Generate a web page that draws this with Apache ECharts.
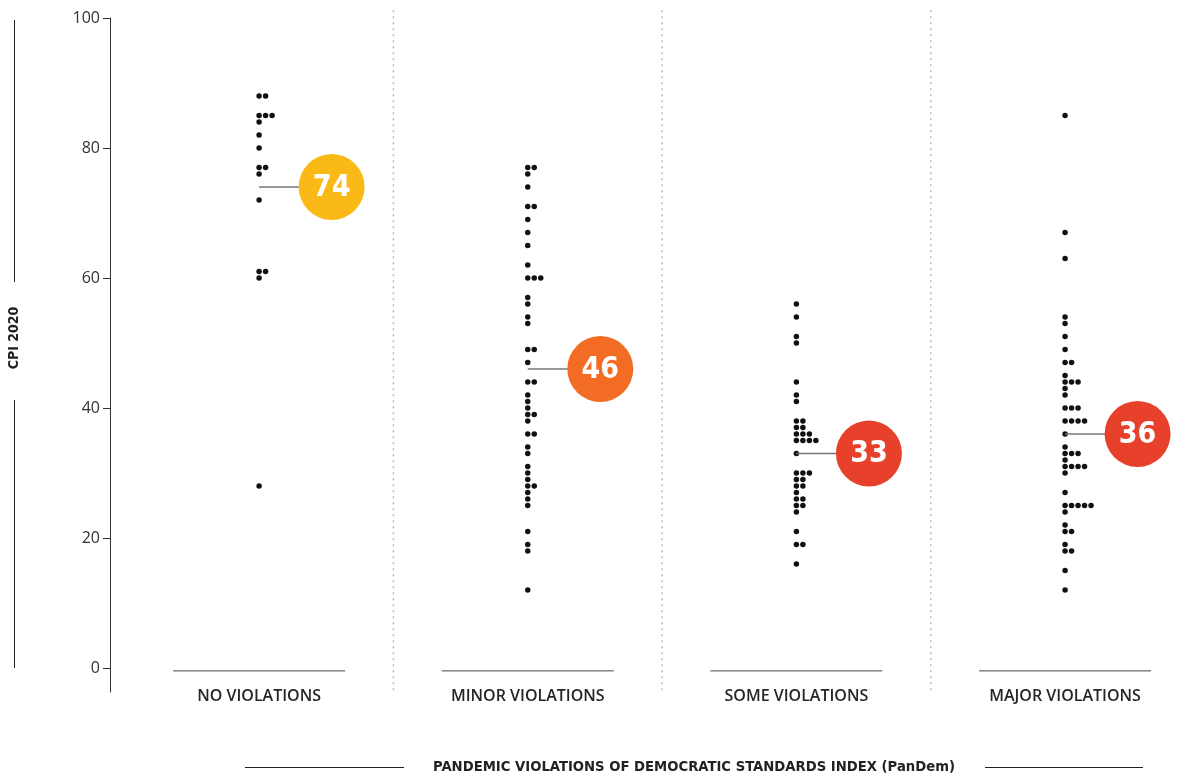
<!DOCTYPE html>
<html>
<head>
<meta charset="utf-8">
<script src="https://cdn.jsdelivr.net/npm/echarts@6/dist/echarts.min.js"></script>
<style>
html,body{margin:0;padding:0;background:#fff;}
#chart{width:1197px;height:775px;}
</style>
</head>
<body>
<div id="chart"></div>
<script>
// ---- data ----
const categories = ['NO VIOLATIONS', 'MINOR VIOLATIONS', 'SOME VIOLATIONS', 'MAJOR VIOLATIONS'];
const noViolations = [88, 88, 85, 85, 85, 84, 82, 80, 77, 77, 76, 72, 61, 61, 60, 28];
const minorViolations = [77, 77, 76, 74, 71, 71, 69, 67, 65, 62, 60, 60, 60, 57, 56, 54, 53, 49, 49, 47, 44, 44, 42, 41, 40, 39, 39, 38, 36, 36, 34, 33, 31, 30, 29, 28, 28, 27, 26, 25, 21, 19, 18, 12];
const someViolations = [56, 54, 51, 50, 44, 42, 41, 38, 38, 37, 37, 36, 36, 36, 35, 35, 35, 35, 33, 30, 30, 30, 29, 29, 28, 28, 27, 26, 26, 25, 25, 24, 21, 19, 19, 16];
const majorViolations = [85, 67, 63, 54, 53, 51, 49, 47, 47, 45, 44, 44, 44, 43, 42, 40, 40, 40, 38, 38, 38, 38, 36, 34, 33, 33, 33, 32, 31, 31, 31, 31, 30, 27, 25, 25, 25, 25, 25, 24, 22, 21, 21, 19, 18, 18, 15, 12];
const groupMeans = [74, 46, 33, 36];
const yTicks = [0, 20, 40, 60, 80, 100];
const yAxisTitle = 'CPI 2020';
const xAxisTitle = 'PANDEMIC VIOLATIONS OF DEMOCRATIC STANDARDS INDEX (PanDem)';

// ---- styles ----
const bubbleColors = ['#FBB918', '#F26C23', '#E8412B', '#E8412B'];
const condFont = '"DejaVu Sans Condensed", "Liberation Sans Narrow", "DejaVu Sans", sans-serif';
const DOT_STEP = 6.5;

const groups = [noViolations, minorViolations, someViolations, majorViolations];

// dot-stack: each repeated value is shifted one step to the right
const dotData = [];
groups.forEach((vals, g) => {
  const seen = {};
  vals.forEach(v => {
    const k = seen[v] || 0;
    seen[v] = k + 1;
    dotData.push({ value: [g, v], symbolOffset: [k * DOT_STEP, 0] });
  });
});

const catData = categories.map((c, g) => [g]);
const meanData = groupMeans.map((m, g) => [g, m]);

const chart = echarts.init(document.getElementById('chart'), null, { renderer: 'canvas' });

chart.setOption({
  animation: false,
  backgroundColor: '#fff',
  grid: { left: 110, right: 3, top: 18, bottom: 83 },
  xAxis: {
    type: 'value', min: -0.555, max: 3.48,
    show: false
  },
  yAxis: {
    type: 'value', min: -3.7, max: 100,
    axisLine: { show: true, onZero: false, lineStyle: { color: '#333', width: 1 } },
    axisTick: { show: true, length: 7, customValues: yTicks, lineStyle: { color: '#333' } },
    axisLabel: {
      customValues: yTicks, margin: 10, color: '#333',
      fontFamily: '"Open Sans", sans-serif', fontSize: 16
    },
    splitLine: { show: false }
  },
  series: [
    {
      // dividers, category baselines and labels
      type: 'custom',
      silent: true,
      data: catData,
      renderItem: function (params, api) {
        const g = api.value(0);
        const children = [];
        const a = api.coord([g - 0.32, -0.45]);
        const b = api.coord([g + 0.32, -0.45]);
        children.push({ type: 'line', shape: { x1: a[0], y1: a[1], x2: b[0], y2: b[1] }, style: { stroke: '#444', lineWidth: 1 } });
        const lp = api.coord([g, -4.4]);
        children.push({
          type: 'text',
          style: {
            text: categories[g], x: lp[0], y: lp[1], align: 'center', verticalAlign: 'middle',
            fill: '#262626', font: '600 16px "Open Sans", sans-serif'
          }
        });
        if (g < categories.length - 1) {
          const t = api.coord([g + 0.5, 101.2]);
          const u = api.coord([g + 0.5, -3.7]);
          children.push({ type: 'line', shape: { x1: t[0], y1: t[1], x2: u[0], y2: u[1] }, style: { stroke: '#bbb', lineWidth: 1.5, lineDash: [2, 4] } });
        }
        return { type: 'group', children: children };
      }
    },
    {
      type: 'scatter',
      data: dotData,
      symbol: 'circle',
      symbolSize: 5.5,
      itemStyle: { color: '#111', opacity: 1 },
      z: 3
    },
    {
      // mean markers
      type: 'custom',
      silent: true,
      data: meanData,
      z: 4,
      renderItem: function (params, api) {
        const g = api.value(0);
        const m = api.value(1);
        const p0 = api.coord([g, m]);
        const p1 = api.coord([g + 0.27, m]);
        return {
          type: 'group',
          children: [
            { type: 'line', shape: { x1: p0[0], y1: p0[1], x2: p1[0], y2: p1[1] }, style: { stroke: '#777', lineWidth: 1.5 } },
            { type: 'circle', shape: { cx: p1[0], cy: p1[1], r: 33 }, style: { fill: bubbleColors[g] } },
            {
              type: 'text',
              style: {
                text: String(m), x: p1[0], y: p1[1] + 1, align: 'center', verticalAlign: 'middle',
                fill: '#fff', font: 'bold 30px ' + condFont
              }
            }
          ]
        };
      }
    }
  ],
  graphic: [
    { type: 'line', shape: { x1: 14.5, y1: 20, x2: 14.5, y2: 282 }, style: { stroke: '#222', lineWidth: 1 } },
    { type: 'line', shape: { x1: 14.5, y1: 400, x2: 14.5, y2: 668 }, style: { stroke: '#222', lineWidth: 1 } },
    {
      type: 'text', x: 14, y: 338, rotation: Math.PI / 2,
      style: { text: yAxisTitle, align: 'center', verticalAlign: 'middle', fill: '#222', font: 'bold 14px ' + condFont }
    },
    { type: 'line', shape: { x1: 245, y1: 767.5, x2: 404, y2: 767.5 }, style: { stroke: '#222', lineWidth: 1 } },
    { type: 'line', shape: { x1: 985, y1: 767.5, x2: 1143, y2: 767.5 }, style: { stroke: '#222', lineWidth: 1 } },
    {
      type: 'text', x: 694, y: 767,
      style: { text: xAxisTitle, align: 'center', verticalAlign: 'middle', fill: '#222', font: 'bold 14.7px ' + condFont }
    }
  ]
});
</script>
</body>
</html>
